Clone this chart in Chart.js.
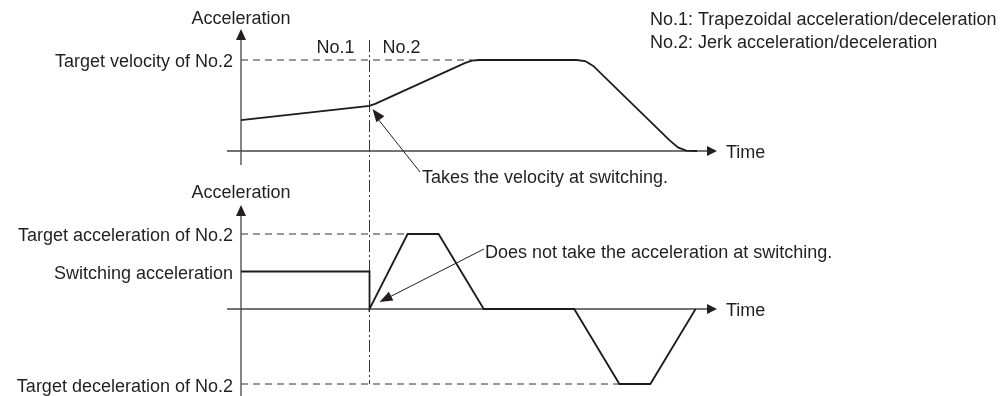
<!DOCTYPE html>
<html lang="en">
<head>
  <meta charset="UTF-8" />
  <title>Velocity and acceleration at switching</title>
  <script src="https://cdn.jsdelivr.net/npm/chart.js"></script>
  <style>
    html, body {
      margin: 0;
      padding: 0;
      background: #fff;
    }

    #wrap {
      position: relative;
      width: 1007px;
      height: 396px;
    }
  </style>
</head>
<body>
  <div id="wrap">
    <canvas id="profile"></canvas>
  </div>

  <script>
    // time in arbitrary units: 0 = vertical axis, 100 = arrow tip of the time axis
    const timeEnd = 100;
    const switchTime = 27;

    // velocity: No.1 trapezoidal up to switching, then No.2 jerk accel/decel
    const velTime  = [0, 27, 28.3, 47, 48.5, 50, 70.5, 72.3, 74, 90, 91.8, 93.5, 95.8];
    const velocity = [34, 49.5, 52, 96.5, 99.3, 100, 100, 98.8, 93.5, 12, 4, 0.5, 0];

    // acceleration
    const accTime      = [0, 27, 27, 35, 41.5, 51, 70, 79.5, 86, 95.5];
    const acceleration = [50, 50, 0, 100, 100, 0, 0, -100, -100, 0];

    // reference levels
    const targetVelocity = 100;
    const targetAcc = 100;
    const switchAcc = 50;
    const targetDec = -100;

    const legendLines = [
      "No.1: Trapezoidal acceleration/deceleration",
      "No.2: Jerk acceleration/deceleration"
    ];

    const W = 1007, H = 396;
    const FONT = '18px "Liberation Sans", Arial, sans-serif';
    const INK = "#231f20";

    // min/max so that two values land on two wanted pixels
    function rangeX(v0, p0, v1, p1) {
      const k = (v1 - v0) / (p1 - p0);
      const min = v0 - p0 * k;
      return { min: min, max: min + W * k };
    }
    function rangeY(v0, p0, v1, p1) {
      const k = (v1 - v0) / (p0 - p1);
      const max = v0 + p0 * k;
      return { min: max - H * k, max: max };
    }

    const xr = rangeX(0, 241, timeEnd, 717);
    const vr = rangeY(0, 151, targetVelocity, 60);
    const ar = rangeY(0, 309, targetAcc, 234);

    function seg(ctx, x1, y1, x2, y2, dash) {
      ctx.setLineDash(dash || []);
      ctx.beginPath();
      ctx.moveTo(x1, y1);
      ctx.lineTo(x2, y2);
      ctx.stroke();
      ctx.setLineDash([]);
    }

    function head(ctx, tx, ty, fx, fy, len, half) {
      const dx = tx - fx, dy = ty - fy;
      const d = Math.hypot(dx, dy);
      const ux = dx / d, uy = dy / d;
      const bx = tx - ux * len, by = ty - uy * len;
      ctx.beginPath();
      ctx.moveTo(tx, ty);
      ctx.lineTo(bx - uy * half, by + ux * half);
      ctx.lineTo(bx + uy * half, by - ux * half);
      ctx.closePath();
      ctx.fill();
    }

    function text(ctx, s, x, y, align) {
      ctx.textAlign = align || "left";
      ctx.fillText(s, x, y);
    }

    const diagram = {
      id: "diagram",
      beforeDatasetsDraw(chart) {
        const { ctx, scales: { x, yv, ya } } = chart;
        const x0 = x.getPixelForValue(0);
        const xEnd = x.getPixelForValue(timeEnd);
        const xs = x.getPixelForValue(switchTime);
        const v0 = yv.getPixelForValue(0);
        const vT = yv.getPixelForValue(targetVelocity);
        const a0 = ya.getPixelForValue(0);
        const aT = ya.getPixelForValue(targetAcc);
        const aD = ya.getPixelForValue(targetDec);

        ctx.save();
        ctx.fillStyle = INK;

        // guide lines
        ctx.strokeStyle = "#333";
        ctx.lineWidth = 1;
        seg(ctx, x0, vT, x.getPixelForValue(48.5), vT, [7, 5]);
        seg(ctx, x0, aT, x.getPixelForValue(35), aT, [7, 5]);
        seg(ctx, x0, aD, x.getPixelForValue(79.5), aD, [7, 5]);
        seg(ctx, xs, 40, xs, aD, [12, 3, 2, 3]);

        // axes
        ctx.strokeStyle = "#444";
        ctx.lineWidth = 1.3;
        seg(ctx, x0, 38, x0, 165);
        head(ctx, x0, 29, x0, 60, 11, 5);
        seg(ctx, 227, v0, xEnd - 8, v0);
        head(ctx, xEnd, v0, 227, v0, 10, 5);

        seg(ctx, x0, 214, x0, H);
        head(ctx, x0, 205, x0, 250, 11, 5);
        seg(ctx, 227, a0, xEnd - 8, a0);
        head(ctx, xEnd, a0, 227, a0, 10, 5);

        ctx.restore();
      },
      afterDatasetsDraw(chart) {
        const { ctx, scales: { x, yv, ya } } = chart;
        const x0 = x.getPixelForValue(0);
        const xEnd = x.getPixelForValue(timeEnd);
        const xs = x.getPixelForValue(switchTime);
        const v0 = yv.getPixelForValue(0);
        const vT = yv.getPixelForValue(targetVelocity);
        const vs = yv.getPixelForValue(velocity[1]);
        const a0 = ya.getPixelForValue(0);
        const aT = ya.getPixelForValue(targetAcc);
        const aS = ya.getPixelForValue(switchAcc);
        const aD = ya.getPixelForValue(targetDec);

        ctx.save();
        ctx.fillStyle = INK;
        ctx.strokeStyle = INK;
        ctx.font = FONT;
        ctx.textBaseline = "alphabetic";

        // upper graph
        text(ctx, "Acceleration", x0, 24, "center");
        text(ctx, "No.1", xs - 15, 53, "right");
        text(ctx, "No.2", xs + 13, 53, "left");
        text(ctx, "Target velocity of No.2", x0 - 8, vT + 6.5, "right");
        text(ctx, "Time", xEnd + 9, v0 + 7, "left");
        text(ctx, legendLines[0], 650, 25, "left");
        text(ctx, legendLines[1], 650, 48, "left");

        text(ctx, "Takes the velocity at switching.", 422, 183, "left");
        ctx.lineWidth = 1;
        seg(ctx, 420, 172, xs + 6, vs + 10);
        head(ctx, xs + 3, vs + 3, 420, 172, 13, 5);

        // lower graph
        text(ctx, "Acceleration", x0, 198, "center");
        text(ctx, "Target acceleration of No.2", x0 - 8, aT + 7, "right");
        text(ctx, "Switching acceleration", x0 - 8, aS + 7, "right");
        text(ctx, "Target deceleration of No.2", x0 - 8, aD + 8, "right");
        text(ctx, "Time", xEnd + 9, a0 + 7, "left");

        text(ctx, "Does not take the acceleration at switching.", 485, 258, "left");
        seg(ctx, 484, 249, xs + 18, a0 - 11);
        head(ctx, xs + 10, a0 - 7, 484, 249, 13, 5);

        ctx.restore();
      }
    };

    const ctx = document.getElementById("profile").getContext("2d");
    new Chart(ctx, {
      type: "scatter",
      data: {
        datasets: [
          {
            label: "Velocity",
            data: velTime.map((t, i) => ({ x: t, y: velocity[i] })),
            yAxisID: "yv",
            showLine: true,
            borderColor: "#1c1c1c",
            borderWidth: 1.8,
            pointRadius: 0,
            tension: 0,
            clip: false
          },
          {
            label: "Acceleration",
            data: accTime.map((t, i) => ({ x: t, y: acceleration[i] })),
            yAxisID: "ya",
            showLine: true,
            borderColor: "#1c1c1c",
            borderWidth: 1.8,
            pointRadius: 0,
            tension: 0,
            clip: false
          }
        ]
      },
      options: {
        responsive: true,
        maintainAspectRatio: false,
        animation: false,
        events: [],
        layout: { padding: 0 },
        plugins: {
          legend: { display: false },
          tooltip: { enabled: false }
        },
        scales: {
          x: { type: "linear", min: xr.min, max: xr.max, display: false },
          yv: { type: "linear", position: "left", min: vr.min, max: vr.max, display: false },
          ya: { type: "linear", position: "left", min: ar.min, max: ar.max, display: false }
        }
      },
      plugins: [diagram]
    });
  </script>
</body>
</html>
